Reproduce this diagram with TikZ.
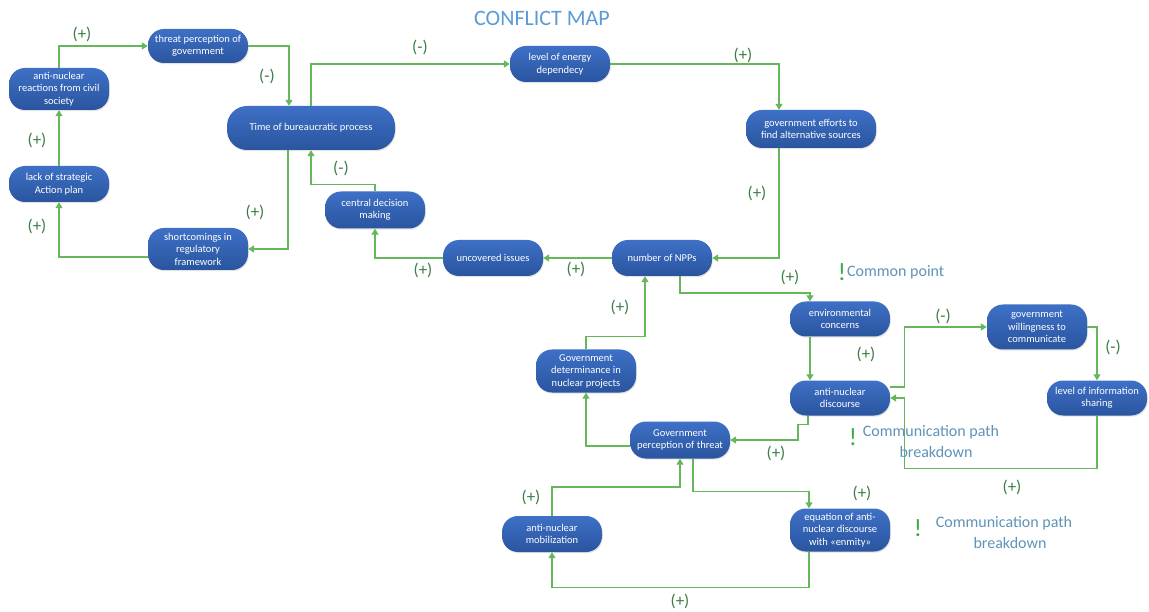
\documentclass[tikz,border=0pt]{standalone}
\usepackage{fontspec}
\setmainfont{Carlito}
\usetikzlibrary{arrows.meta,calc,shadows}
\definecolor{nodetop}{HTML}{3E70C6}
\definecolor{nodebot}{HTML}{2A559F}
\definecolor{linkc}{HTML}{66B65C}
\definecolor{signc}{HTML}{3B7D44}
\definecolor{titlec}{HTML}{5B9BD5}
\definecolor{notec}{HTML}{5F93B8}
\definecolor{bangc}{HTML}{3DAA4A}
\begin{document}
\begin{tikzpicture}[x=1pt,y=-1pt,
  pill/.style={rectangle, rounded corners=16pt, top color=nodetop, bottom color=nodebot,
    draw=none, text=white, align=center, font=\fontsize{10.5}{12.5}\selectfont,
    minimum width=100pt, minimum height=36pt, inner sep=1pt,
    drop shadow={opacity=0.22, shadow xshift=0.8pt, shadow yshift=-1.2pt}},
  link/.style={draw=linkc, line width=1.4pt, -{Triangle[width=7pt,length=6pt]}},
  sign/.style={text=signc, font=\fontsize{17}{17}\selectfont},
  bang/.style={text=bangc, font=\fontsize{25}{25}\selectfont, inner sep=0pt},
  note/.style={text=notec, font=\fontsize{16}{16}\selectfont, inner sep=0pt},
  titlestyle/.style={text=titlec, font=\fontsize{22}{22}\selectfont}
]
\fill[white] (0,0) rectangle (1149,612);
\useasboundingbox (0,0) rectangle (1149,612);

\node[titlestyle] (title) at (542,18) {CONFLICT MAP};

% nodes
\node[pill, minimum height=34pt] (threat) at (198,46) {threat perception of\\government};
\node[pill, minimum height=42pt] (reactions) at (59,89) {anti-nuclear\\reactions from civil\\society};
\node[pill, minimum width=168pt, minimum height=44pt, rounded corners=20pt] (time) at (311,128) {Time of bureaucratic process};
\node[pill] (lack) at (59,184) {lack of strategic\\Action plan};
\node[pill, minimum height=42pt] (short) at (198,249) {shortcomings in\\regulatory\\framework};
\node[pill, minimum height=37pt] (central) at (375,210) {central decision\\making};
\node[pill] (energy) at (560,64) {level of energy\\dependecy};
\node[pill, minimum width=130pt, minimum height=38pt] (efforts) at (811,129) {government efforts to\\find alternative sources};
\node[pill] (npp) at (662,258) {number of NPPs};
\node[pill] (uncovered) at (493,258) {uncovered issues};
\node[pill, minimum height=35pt] (env) at (840,319) {environmental\\concerns};
\node[pill, minimum height=43pt] (determ) at (586,371) {Government\\determinance in\\nuclear projects};
\node[pill, minimum height=35pt] (discourse) at (840,398) {anti-nuclear\\discourse};
\node[pill, minimum height=37pt] (perc) at (680,440) {Government\\perception of threat};
\node[pill] (mobil) at (552,534) {anti-nuclear\\mobilization};
\node[pill, minimum height=43pt] (equation) at (840,530) {equation of anti-\\nuclear discourse\\with «enmity»};
\node[pill, minimum height=45pt] (willing) at (1037,327) {government\\willingness to\\communicate};
\node[pill, minimum height=35pt] (info) at (1097,398) {level of information\\sharing};

% connectors
\draw[link] (reactions.north) |- (threat.west);
\draw[link] (threat.east) -| ([xshift=-22pt]time.north);
\draw[link] (time.north) |- (energy.west);
\draw[link] (energy.east) -| ([xshift=-32pt]efforts.north);
\draw[link] ([xshift=-32pt]efforts.south) |- (npp.east);
\draw[link] (npp.west) -- (uncovered.east);
\draw[link] (uncovered.west) -| (central.south);
\draw[link] (central.north) -- ++(0,-7) -| (time.south);
\draw[link] ([xshift=-23pt]time.south) |- (short.east);
\draw[link] ([yshift=-8pt]short.west) -| (lack.south);
\draw[link] (lack.north) -- (reactions.south);
\draw[link] ([xshift=18pt]npp.south) -- ++(0,17) -| ([xshift=-30pt]env.north);
\draw[link] ([xshift=-30pt]env.south) -- ([xshift=-30pt]discourse.north);
\draw[link] ([xshift=-32pt]discourse.south) -- ++(0,9) -- ++(-10,0) |- (perc.east);
\draw[link] ([yshift=-6pt]perc.west) -| (determ.south);
\draw[link] (determ.north) -- ++(0,-13) -| ([xshift=-17pt]npp.south);
\draw[link] ([yshift=11pt]discourse.east) -- ++(14,0) |- (willing.west);
\draw[link] (willing.east) -| (info.north);
\draw[link] (info.south) -- ++(0,53) -| ([xshift=14pt]discourse.east) -- (discourse.east);
\draw[link] ([xshift=13pt]perc.south) -- ++(0,33) -| ([xshift=-31pt]equation.north);
\draw[link] ([xshift=-31pt]equation.south) -- ++(0,36) -| (mobil.south);
\draw[link] (mobil.north) -- ++(0,-29) -| (perc.south);

% signs
\node[sign] (sa) at (82,34) {(+)};
\node[sign] (sb) at (267,76) {(-)};
\node[sign] (sc) at (420,47) {(-)};
\node[sign] (sd) at (743,55) {(+)};
\node[sign] (se) at (757,193) {(+)};
\node[sign] (sf) at (576,269) {(+)};
\node[sign] (sg) at (423,270) {(+)};
\node[sign] (sh) at (341,168) {(-)};
\node[sign] (si) at (255,212) {(+)};
\node[sign] (sj) at (37,226) {(+)};
\node[sign] (sk) at (37,140) {(+)};
\node[sign] (sl) at (790,277) {(+)};
\node[sign] (sm) at (866,354) {(+)};
\node[sign] (sn) at (776,453) {(+)};
\node[sign] (sp) at (620,307) {(+)};
\node[sign] (sq) at (943,316) {(-)};
\node[sign] (sr) at (1113,347) {(-)};
\node[sign] (ss) at (1012,487) {(+)};
\node[sign] (st) at (862,493) {(+)};
\node[sign] (su) at (680,601) {(+)};
\node[sign] (sv) at (531,497) {(+)};

% notes
\node[bang] (bang1) at (842,272) {!};
\node[note, anchor=west] (note1) at (847,272) {Common point};
\node[bang] (bang2) at (853,437) {!};
\node[note] (note2a) at (931,432) {Communication path};
\node[note] (note2b) at (936,452) {breakdown};
\node[bang] (bang3) at (918,528) {!};
\node[note] (note3a) at (1004,523) {Communication path};
\node[note] (note3b) at (1010,543) {breakdown};
\end{tikzpicture}
\end{document}
